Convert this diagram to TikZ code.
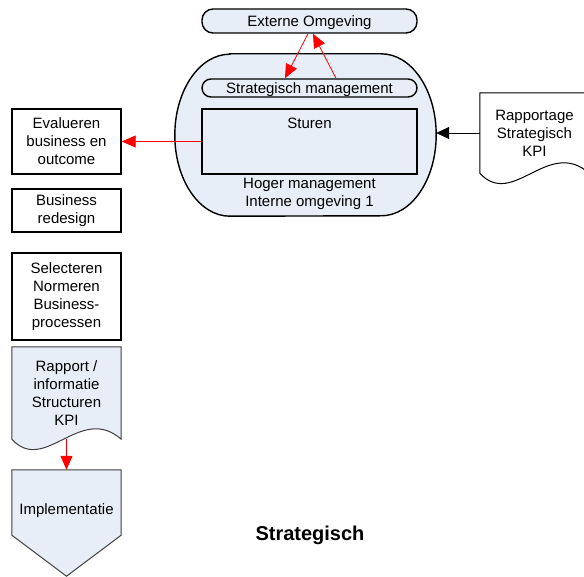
\documentclass[tikz,border=0pt]{standalone}
\usepackage{fontspec}
\setmainfont{Liberation Sans}
\usepackage{xcolor}
\usetikzlibrary{positioning,arrows.meta,calc,backgrounds}
\definecolor{paleblue}{HTML}{E8EEF7}
\definecolor{docedge}{HTML}{404040}

\begin{document}
\begin{tikzpicture}[
    x=1pt, y=1pt,
    >=Triangle,
    every node/.style={font=\fontsize{15}{18}\selectfont, align=center},
    box/.style={draw, line width=1.4pt, minimum width=109pt, inner sep=0pt},
    pill/.style={draw, line width=1.4pt, fill=paleblue, minimum width=215pt, inner sep=0pt, text depth=0pt},
    doc/.style={minimum width=109pt, inner sep=0pt},
    redarrow/.style={->, red, line width=0.8pt, >={Triangle[length=14pt,width=12pt]}}
  ]
    \useasboundingbox (0,0) rectangle (584,576);
    % Top: omgeving and hoger management
    \node[pill, minimum height=24pt, rounded corners=11pt] (ext) at (309.5,555) {Externe Omgeving};
    \node[minimum width=261pt, minimum height=162pt] (intern) at (305.5,441) {};
    \node[pill, minimum height=18pt, rounded corners=9pt] (strat) at (309.5,488) {Strategisch management};
    \node[box, fill=paleblue, minimum width=215pt, minimum height=65pt,
          label={[anchor=north, inner sep=0pt, yshift=-10pt]north:Sturen}] (sturen) at (309.5,434.5) {};
    \node (hoger) at (309.5,382) {Hoger management\\Interne omgeving 1};
    % Left column
    \node[box, minimum height=65pt] (eval) at (66.5,434.5) {Evalueren\\business en\\outcome};
    \node[box, minimum height=43pt] (redesign) at (66.5,365.5) {Business\\redesign};
    \node[box, minimum height=87pt] (select) at (66.5,279.5) {Selecteren\\Normeren\\Business-\\processen};
    \node[doc, minimum height=92pt] (rapport) at (66.5,183) {Rapport /\\informatie\\Structuren\\KPI};
    \node[doc, minimum height=65pt, label={[inner sep=0pt, yshift=-8pt]center:Implementatie}] (impl) at (66.5,73.5) {};
    % Right: rapportage
    \node[doc, minimum height=80pt] (rapkpi) at (534.5,443) {Rapportage\\Strategisch\\KPI};
    % Title
    \node[font=\bfseries\fontsize{20}{24}\selectfont] (title) at (310,41) {Strategisch};
    % Outlines behind the texts
    \begin{scope}[on background layer]
      \filldraw[fill=paleblue, line width=1.4pt]
        ($(intern.north west)+(55,0)$) -- ($(intern.north east)+(-55,0)$)
        arc[start angle=90, end angle=-90, x radius=55pt, y radius=81pt]
        -- ($(intern.south west)+(55,0)$)
        arc[start angle=270, end angle=90, x radius=55pt, y radius=81pt] -- cycle;
      \filldraw[fill=paleblue, draw=docedge, line width=1pt]
        (rapport.south west) -- (rapport.north west) -- (rapport.north east) -- (rapport.south east)
        .. controls +(-41,36) and +(33,-36) .. (rapport.south west) -- cycle;
      \filldraw[fill=white, line width=1pt]
        (rapkpi.south west) -- (rapkpi.north west) -- (rapkpi.north east) -- (rapkpi.south east)
        .. controls +(-41,36) and +(33,-36) .. (rapkpi.south west) -- cycle;
      \filldraw[fill=paleblue, draw=docedge, line width=1pt]
        (impl.north west) -- (impl.north east) -- (impl.south east)
        -- ($(impl.south)+(0,-41)$) -- (impl.south west) -- cycle;
    \end{scope}
    % Arrows
    \draw[redarrow] ([xshift=-1.5pt]ext.south) -- ([xshift=-24.5pt]strat.north);
    \draw[redarrow] ([xshift=26.5pt]strat.north) -- ([xshift=3.5pt]ext.south);
    \draw[redarrow] (sturen.west) -- (eval.east);
    \draw[redarrow] (rapport.south) -- (impl.north);
    \draw[->, line width=0.8pt, >={Triangle[length=13pt,width=12pt]}] (rapkpi.west) -- (rapkpi.west -| intern.east);
\end{tikzpicture}
\end{document}
